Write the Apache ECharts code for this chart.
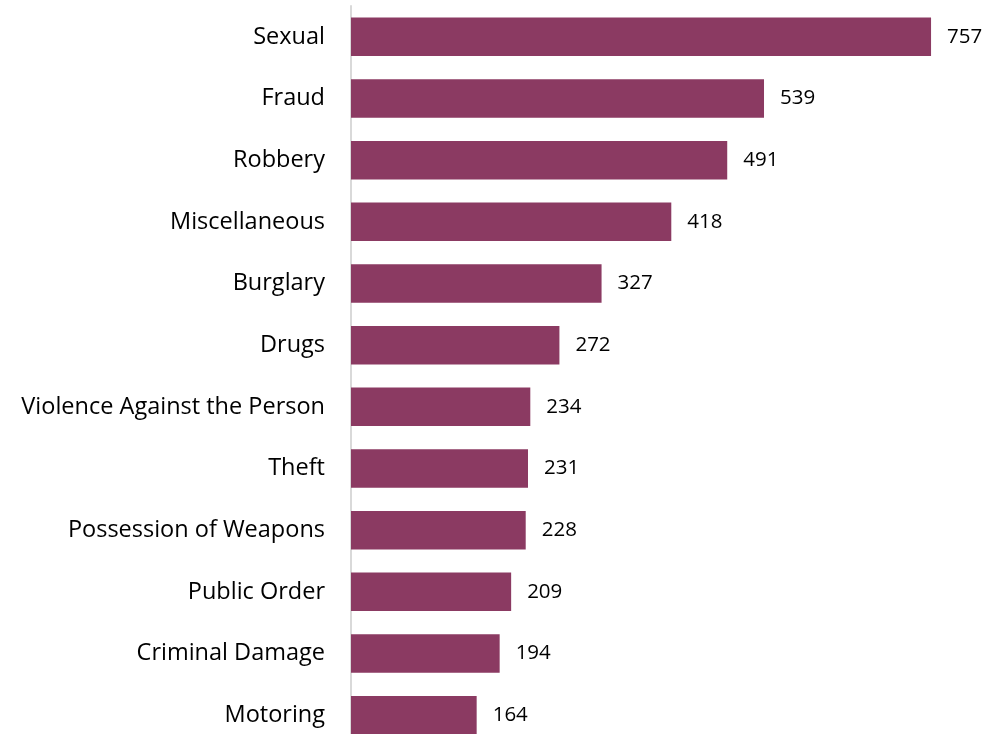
<!DOCTYPE html>
<html><head><meta charset="utf-8">
<script src="https://cdn.jsdelivr.net/npm/echarts@6/dist/echarts.min.js"></script>
<style>html,body{margin:0;padding:0;background:#fff;overflow:hidden;height:734px}#c{width:1005px;height:746px}</style>
</head><body><div id="c"></div>
<script>
const categories = ["Sexual","Fraud","Robbery","Miscellaneous","Burglary","Drugs","Violence Against the Person","Theft","Possession of Weapons","Public Order","Criminal Damage","Motoring"];
const values = [757,539,491,418,327,272,234,231,228,209,194,164];
const chart = echarts.init(document.getElementById('c'));
chart.setOption({
  animation:false,
  grid:{left:351,right:41,top:6,bottom:0,containLabel:false},
  xAxis:{type:'value',min:0,max:800,show:false},
  yAxis:{type:'category',data:categories,inverse:true,
    axisLine:{show:true,lineStyle:{color:'#d9d9d9',width:2}},
    axisTick:{show:false},
    axisLabel:{color:'#000',fontFamily:'Open Sans',fontSize:23.5,margin:26}},
  series:[{type:'bar',data:values,barCategoryGap:'37.5%',
    itemStyle:{color:'#8B3A62'},
    label:{show:true,position:'right',distance:16,color:'#000',fontFamily:'Open Sans',fontSize:20.5}}]
});
</script></body></html>
